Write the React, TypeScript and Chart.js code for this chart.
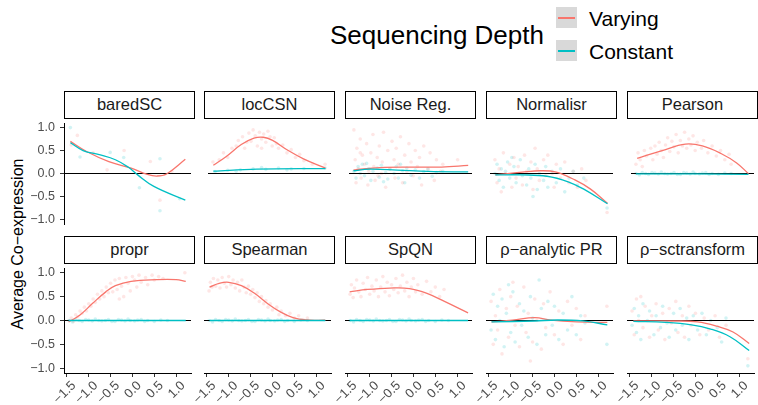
import React, { useEffect, useRef } from "react";
import { Chart, registerables } from "chart.js";

Chart.register(...registerables);

type Pt = [number, number];

// ---------- constants ----------
const RED = "#F8766D";
const TEAL = "#00BFC4";
const RED_PT = "rgba(248,118,109,0.18)";
const TEAL_PT = "rgba(0,191,196,0.18)";
const FONT = "'Liberation Sans', Arial, Helvetica, sans-serif";

const X_MIN = -1.566;
const X_MAX = 1.34;
const Y_MIN = -1.1;
const Y_MAX = 1.1;
const X_TICKS = [-1.5, -1.0, -0.5, 0.0, 0.5, 1.0];
const Y_TICKS = [-1.0, -0.5, 0.0, 0.5, 1.0];

const LEGEND_TITLE = "Sequencing Depth";
const SERIES_NAMES = ["Varying", "Constant"];
const Y_TITLE = "Average Co\u2212expression";

const METHODS = [
  "baredSC",
  "locCSN",
  "Noise Reg.",
  "Normalisr",
  "Pearson",
  "propr",
  "Spearman",
  "SpQN",
  "\u03C1\u2212analytic PR",
  "\u03C1\u2212sctransform",
];

// ---------- smooth curves ----------
const baredVaryLine: Pt[] = [[-1.42, 0.7], [-1.05, 0.48], [-0.54, 0.26], [-0.03, 0.115], [0.34, -0.02], [0.56, -0.055], [0.78, -0.01], [1.21, 0.31]];
const baredConstLine: Pt[] = [[-1.42, 0.67], [-1.13, 0.5], [-0.76, 0.41], [-0.39, 0.3], [-0.1, 0.14], [0.12, -0.03], [0.49, -0.28], [1.21, -0.58]];

const loccsnVaryLine: Pt[] = [[-1.44, 0.18], [-1.15, 0.36], [-0.78, 0.63], [-0.48, 0.77], [-0.26, 0.79], [-0.04, 0.72], [0.33, 0.5], [0.69, 0.32], [1.21, 0.115]];
const loccsnConstLine: Pt[] = [[-1.44, 0.05], [-0.41, 0.095], [1.21, 0.107]];

const noiseVaryLine: Pt[] = [[-1.46, 0.075], [-0.83, 0.13], [-0.06, 0.14], [0.62, 0.14], [1.25, 0.175]];
const noiseConstLine: Pt[] = [[-1.46, 0.06], [-1.09, 0.095], [-0.43, 0.075], [0.31, 0.046], [1.25, 0.034]];

const normVaryLine: Pt[] = [[-1.44, -0.03], [-0.81, 0.03], [-0.37, 0.06], [0.0, 0.03], [0.44, -0.14], [0.81, -0.34], [1.21, -0.65]];
const normConstLine: Pt[] = [[-1.44, -0.03], [-0.81, -0.03], [-0.22, -0.06], [0.28, -0.18], [0.65, -0.34], [1.21, -0.66]];

const pearsonVaryLine: Pt[] = [[-1.42, 0.33], [-0.83, 0.5], [-0.28, 0.64], [0.12, 0.6], [0.57, 0.43], [0.93, 0.23], [1.21, -0.005]];
const pearsonConstLine: Pt[] = [[-1.45, -0.01], [0.0, -0.01], [1.21, -0.02]];

const proprVaryLine: Pt[] = [[-1.46, -0.03], [-1.2, 0.115], [-0.91, 0.36], [-0.61, 0.6], [-0.39, 0.73], [-0.03, 0.82], [0.56, 0.855], [1.0, 0.855], [1.22, 0.82]];
const proprConstLine: Pt[] = [[-1.46, 0.0], [0.0, 0.0], [1.22, 0.0]];

const spearVaryLine: Pt[] = [[-1.44, 0.7], [-1.22, 0.78], [-1.0, 0.8], [-0.71, 0.73], [-0.41, 0.57], [-0.12, 0.36], [0.18, 0.18], [0.47, 0.06], [0.77, 0.01], [1.21, 0.005]];
const spearConstLine: Pt[] = [[-1.44, 0.0], [0.0, 0.0], [1.21, 0.0]];

const spqnVaryLine: Pt[] = [[-1.46, 0.6], [-1.05, 0.65], [-0.54, 0.68], [-0.09, 0.67], [0.31, 0.57], [0.71, 0.4], [1.25, 0.16]];
const spqnConstLine: Pt[] = [[-1.46, 0.0], [0.0, 0.0], [1.25, 0.0]];

const anaVaryLine: Pt[] = [[-1.44, -0.03], [-0.96, 0.006], [-0.45, 0.06], [-0.08, 0.006], [0.51, -0.03], [1.21, -0.04]];
const anaConstLine: Pt[] = [[-1.44, -0.03], [-0.45, -0.01], [0.07, 0.01], [0.65, -0.01], [1.21, -0.09]];

const sctVaryLine: Pt[] = [[-1.42, -0.01], [-0.46, -0.01], [0.05, -0.03], [0.49, -0.12], [0.86, -0.24], [1.23, -0.48]];
const sctConstLine: Pt[] = [[-1.42, -0.02], [-0.68, -0.04], [-0.09, -0.09], [0.35, -0.18], [0.79, -0.34], [1.23, -0.63]];

// ---------- scatter clouds ----------
const baredVaryPts: Pt[] = [[-1.26, 0.83], [-0.19, 0.5], [-0.58, 0.08], [0.41, 0.26], [0.63, -0.58], [-1.4, 0.62], [0.9, 0.05], [-0.9, 0.45]];
const baredConstPts: Pt[] = [[-1.42, 1.0], [-0.51, 0.46], [0.63, 0.32], [0.16, -0.31], [0.63, -0.81], [1.08, -0.55], [-1.2, 0.36], [-0.2, 0.35]];

const loccsnVaryPts: Pt[] = [[-1.45, 0.25], [-1.3, 0.3], [-1.2, 0.45], [-1.1, 0.35], [-1.0, 0.55], [-0.9, 0.6], [-0.85, 0.72], [-0.75, 0.8], [-0.7, 0.55], [-0.6, 0.88], [-0.55, 0.7], [-0.5, 0.95], [-0.45, 0.82], [-0.4, 0.6], [-0.35, 0.9], [-0.3, 0.75], [-0.25, 0.86], [-0.2, 0.68], [-0.15, 0.92], [-0.1, 0.8], [-0.05, 0.6], [0.0, 0.78], [0.05, 0.65], [0.1, 0.55], [0.2, 0.62], [0.3, 0.45], [0.4, 0.52], [0.5, 0.35], [0.6, 0.42], [0.7, 0.28], [0.9, 0.2], [1.2, 0.2], [-0.3, 0.55], [-0.65, 0.68]];
const loccsnConstPts: Pt[] = [[-1.4, 0.04], [-1.1, 0.07], [-0.8, 0.08], [-0.5, 0.1], [-0.2, 0.09], [0.1, 0.12], [0.4, 0.1], [0.7, 0.11], [1.2, 0.12], [-0.9, 0.05], [-0.3, 0.13], [0.3, 0.08]];

const noiseVaryPts: Pt[] = [[-1.45, 0.95], [-1.42, 0.3], [-1.4, -0.2], [-1.38, 0.55], [-1.35, 0.1], [-1.3, 0.75], [-1.28, -0.1], [-1.25, 0.4], [-1.2, 0.2], [-1.15, 0.65], [-1.12, -0.25], [-1.1, 0.05], [-1.05, 0.45], [-1.0, 0.85], [-0.98, 0.15], [-0.95, -0.15], [-0.9, 0.35], [-0.85, 0.6], [-0.8, 0.0], [-0.78, 0.25], [-0.75, 0.9], [-0.7, -0.3], [-0.65, 0.5], [-0.6, 0.1], [-0.55, 0.7], [-0.5, 0.3], [-0.48, -0.1], [-0.45, 0.55], [-0.4, 0.2], [-0.35, 0.8], [-0.3, -0.2], [-0.25, 0.4], [-0.2, 0.05], [-0.15, 0.65], [-0.1, 0.25], [-0.05, -0.05], [0.0, 0.5], [0.05, 0.15], [0.1, 0.35], [0.15, -0.25], [0.2, 0.6], [0.3, 0.1], [0.35, 0.45], [0.45, -0.15], [0.5, 0.3], [0.6, 0.05], [0.65, 0.2], [1.0, 0.3], [-1.3, 0.45], [-0.88, -0.05]];
const noiseConstPts: Pt[] = [[-1.45, 0.05], [-1.4, -0.1], [-1.35, 0.15], [-1.3, 0.0], [-1.25, 0.2], [-1.2, -0.05], [-1.1, 0.1], [-1.05, -0.15], [-1.0, 0.05], [-0.9, 0.12], [-0.85, -0.08], [-0.8, 0.18], [-0.7, 0.02], [-0.65, -0.12], [-0.6, 0.1], [-0.5, 0.0], [-0.45, 0.15], [-0.4, -0.1], [-0.3, 0.06], [-0.25, -0.2], [-0.2, 0.12], [-0.1, -0.04], [0.0, 0.08], [0.1, -0.1], [0.2, 0.04], [0.3, 0.1], [0.4, -0.06], [0.5, 0.02], [0.65, 0.05], [-1.15, 0.22], [-0.75, -0.18], [-0.35, 0.2]];

const normVaryPts: Pt[] = [[-1.45, 0.3], [-1.4, -0.2], [-1.35, 0.1], [-1.3, -0.4], [-1.25, 0.45], [-1.2, 0.0], [-1.1, 0.2], [-1.05, -0.3], [-1.0, 0.35], [-0.95, -0.1], [-0.9, 0.15], [-0.8, -0.25], [-0.75, 0.4], [-0.7, 0.05], [-0.6, 0.25], [-0.55, -0.35], [-0.5, 0.55], [-0.45, 0.1], [-0.4, -0.15], [-0.3, 0.3], [-0.25, -0.05], [-0.2, 0.4], [-0.1, 0.0], [-0.05, -0.3], [0.0, 0.2], [0.1, -0.1], [0.2, 0.25], [0.3, -0.2], [0.4, 0.05], [0.5, -0.3], [0.6, 0.1], [0.7, -0.15], [1.2, -0.85]];
const normConstPts: Pt[] = [[-1.45, 0.0], [-1.4, 0.2], [-1.35, -0.15], [-1.3, 0.1], [-1.25, -0.3], [-1.2, 0.05], [-1.15, 0.25], [-1.1, -0.1], [-1.0, 0.15], [-0.95, -0.2], [-0.9, 0.0], [-0.85, 0.3], [-0.8, -0.05], [-0.7, -0.25], [-0.65, 0.1], [-0.6, -0.1], [-0.5, 0.2], [-0.45, -0.35], [-0.4, 0.0], [-0.3, -0.15], [-0.25, 0.15], [-0.2, -0.3], [-0.1, 0.05], [0.0, -0.2], [0.1, 0.1], [0.2, -0.4], [0.3, -0.1], [0.4, 0.05], [0.5, -0.25], [0.65, -0.1], [-0.55, -0.5], [1.2, -0.75], [-1.05, 0.35]];

const pearsonVaryPts: Pt[] = [[-1.45, 0.2], [-1.4, 0.45], [-1.35, 0.3], [-1.3, 0.15], [-1.25, 0.5], [-1.2, 0.38], [-1.1, 0.55], [-1.05, 0.3], [-1.0, 0.6], [-0.95, 0.42], [-0.9, 0.68], [-0.85, 0.5], [-0.8, 0.35], [-0.75, 0.62], [-0.7, 0.78], [-0.65, 0.48], [-0.6, 0.7], [-0.55, 0.58], [-0.5, 0.85], [-0.45, 0.45], [-0.4, 0.72], [-0.35, 0.6], [-0.3, 0.9], [-0.25, 0.55], [-0.2, 0.75], [-0.15, 0.62], [-0.1, 0.82], [-0.05, 0.5], [0.0, 0.68], [0.1, 0.55], [0.15, 0.72], [0.25, 0.45], [0.35, 0.6], [0.45, 0.38], [0.55, 0.5], [0.65, 0.3], [0.75, 0.42], [0.8, 0.2]];
const flatConstPts: Pt[] = [[-1.45, 0.0], [-1.37, -0.03], [-1.3, 0.02], [-1.22, 0.0], [-1.15, -0.02], [-1.07, 0.02], [-1.0, 0.01], [-0.92, -0.01], [-0.85, 0.03], [-0.77, 0.0], [-0.7, -0.01], [-0.62, 0.0], [-0.55, 0.02], [-0.47, -0.02], [-0.4, -0.02], [-0.32, 0.02], [-0.25, 0.01], [-0.17, -0.01], [-0.1, 0.03], [-0.05, 0.0], [0.05, -0.01], [0.12, 0.01], [0.2, 0.02], [0.28, -0.02], [0.35, 0.0], [0.5, -0.02], [0.65, 0.01], [0.8, 0.0]];

const proprVaryPts: Pt[] = [[-1.45, 0.0], [-1.4, 0.05], [-1.35, -0.02], [-1.3, 0.12], [-1.25, 0.08], [-1.2, 0.2], [-1.15, 0.15], [-1.1, 0.28], [-1.05, 0.2], [-1.0, 0.35], [-0.95, 0.3], [-0.9, 0.45], [-0.85, 0.38], [-0.8, 0.55], [-0.75, 0.45], [-0.7, 0.62], [-0.65, 0.5], [-0.6, 0.7], [-0.55, 0.58], [-0.5, 0.78], [-0.45, 0.6], [-0.4, 0.85], [-0.35, 0.65], [-0.3, 0.88], [-0.25, 0.72], [-0.2, 0.5], [-0.15, 0.9], [-0.1, 0.78], [-0.05, 0.62], [0.0, 0.92], [0.05, 0.85], [0.1, 0.7], [0.15, 0.95], [0.2, 0.8], [0.3, 0.9], [0.35, 0.75], [0.45, 0.95], [0.5, 0.85], [0.6, 0.92], [0.7, 0.88], [1.2, 1.0], [-0.3, 0.45]];

const spearVaryPts: Pt[] = [[-1.45, 0.62], [-1.42, 0.8], [-1.38, 0.7], [-1.35, 0.88], [-1.3, 0.72], [-1.25, 0.85], [-1.2, 0.68], [-1.15, 0.9], [-1.1, 0.78], [-1.05, 0.7], [-1.0, 0.92], [-0.95, 0.75], [-0.9, 0.85], [-0.85, 0.68], [-0.8, 0.8], [-0.75, 0.62], [-0.7, 0.85], [-0.65, 0.7], [-0.6, 0.58], [-0.55, 0.72], [-0.5, 0.55], [-0.45, 0.65], [-0.4, 0.48], [-0.35, 0.58], [-0.3, 0.4], [-0.25, 0.5], [-0.2, 0.35], [-0.15, 0.42], [-0.1, 0.28], [-0.05, 0.35], [0.0, 0.22], [0.1, 0.28], [0.15, 0.12], [0.2, 0.2], [0.3, 0.1], [0.4, 0.15], [0.5, 0.05], [0.6, 0.1], [0.7, 0.02], [0.8, 0.05]];

const spqnVaryPts: Pt[] = [[-1.45, 0.55], [-1.42, 0.75], [-1.38, 0.48], [-1.35, 0.68], [-1.3, 0.85], [-1.25, 0.6], [-1.2, 0.5], [-1.15, 0.78], [-1.1, 0.65], [-1.05, 0.9], [-1.0, 0.55], [-0.95, 0.72], [-0.9, 0.62], [-0.85, 0.85], [-0.8, 0.5], [-0.75, 0.7], [-0.7, 0.92], [-0.65, 0.6], [-0.6, 0.8], [-0.55, 0.52], [-0.5, 0.75], [-0.45, 0.65], [-0.4, 0.88], [-0.35, 0.58], [-0.3, 0.72], [-0.25, 0.95], [-0.2, 0.62], [-0.15, 0.8], [-0.1, 0.5], [-0.05, 0.7], [0.0, 0.88], [0.05, 0.6], [0.1, 0.75], [0.2, 0.55], [0.3, 0.82], [0.4, 0.6], [0.5, 0.7], [0.6, 0.5], [0.7, 0.65]];

const anaVaryPts: Pt[] = [[-1.45, 0.4], [-1.4, -0.5], [-1.35, 0.1], [-1.3, -0.2], [-1.25, 0.65], [-1.2, -0.7], [-1.1, 0.25], [-1.05, -0.35], [-1.0, 0.5], [-0.9, -0.1], [-0.85, 0.3], [-0.8, -0.55], [-0.7, 0.7], [-0.65, -0.25], [-0.6, 0.15], [-0.5, -0.45], [-0.45, 0.45], [-0.4, 0.0], [-0.3, -0.6], [-0.25, 0.35], [-0.2, -0.15], [-0.1, 0.6], [0.0, -0.3], [0.1, 0.2], [0.2, -0.5], [0.3, 0.4], [0.4, -0.1], [0.5, 0.25], [0.6, -0.4], [0.7, 0.1], [1.2, 0.3], [-0.95, 0.8], [-0.55, -0.85]];
const anaConstPts: Pt[] = [[-1.45, -0.2], [-1.4, 0.55], [-1.35, -0.4], [-1.3, 0.3], [-1.25, 0.0], [-1.2, 0.45], [-1.15, -0.55], [-1.1, 0.15], [-1.0, -0.25], [-0.95, 0.6], [-0.9, -0.45], [-0.8, 0.35], [-0.75, -0.1], [-0.7, 0.2], [-0.6, -0.35], [-0.55, 0.5], [-0.5, 0.05], [-0.4, -0.5], [-0.35, 0.85], [-0.3, 0.25], [-0.2, -0.3], [-0.15, 0.4], [-0.05, -0.1], [0.0, 0.3], [0.1, -0.4], [0.2, 0.15], [0.3, -0.2], [0.4, 0.5], [0.5, -0.3], [0.6, 0.1], [0.7, -0.05], [1.2, -0.5], [-1.05, 0.75]];

const sctVaryPts: Pt[] = [[-1.45, 0.2], [-1.4, -0.3], [-1.35, 0.45], [-1.3, 0.0], [-1.2, -0.15], [-1.15, 0.3], [-1.05, -0.35], [-1.0, 0.1], [-0.9, 0.35], [-0.85, -0.2], [-0.75, 0.15], [-0.7, -0.4], [-0.6, 0.25], [-0.55, -0.05], [-0.45, 0.4], [-0.4, -0.25], [-0.3, 0.1], [-0.25, -0.35], [-0.15, 0.3], [-0.1, -0.1], [0.0, 0.15], [0.1, -0.3], [0.2, 0.05], [0.3, -0.2], [0.45, 0.1], [0.55, -0.35], [0.7, -0.1], [1.2, -0.8], [-1.25, 0.5]];
const sctConstPts: Pt[] = [[-1.45, -0.1], [-1.4, 0.25], [-1.35, -0.25], [-1.3, 0.1], [-1.25, -0.4], [-1.2, 0.35], [-1.1, 0.0], [-1.05, 0.2], [-0.95, -0.3], [-0.9, 0.1], [-0.8, -0.15], [-0.75, 0.3], [-0.65, -0.05], [-0.6, -0.35], [-0.5, 0.15], [-0.45, -0.2], [-0.35, 0.25], [-0.3, -0.1], [-0.2, 0.05], [-0.15, -0.4], [-0.05, 0.1], [0.05, -0.2], [0.15, 0.15], [0.25, -0.3], [0.35, 0.0], [0.5, -0.15], [0.6, -0.45], [0.7, 0.05], [1.2, -0.95]];

const VARY_LINES: Pt[][] = [baredVaryLine, loccsnVaryLine, noiseVaryLine, normVaryLine, pearsonVaryLine, proprVaryLine, spearVaryLine, spqnVaryLine, anaVaryLine, sctVaryLine];
const CONST_LINES: Pt[][] = [baredConstLine, loccsnConstLine, noiseConstLine, normConstLine, pearsonConstLine, proprConstLine, spearConstLine, spqnConstLine, anaConstLine, sctConstLine];
const VARY_PTS: Pt[][] = [baredVaryPts, loccsnVaryPts, noiseVaryPts, normVaryPts, pearsonVaryPts, proprVaryPts, spearVaryPts, spqnVaryPts, anaVaryPts, sctVaryPts];
const CONST_PTS: Pt[][] = [baredConstPts, loccsnConstPts, noiseConstPts, normConstPts, flatConstPts, flatConstPts, flatConstPts, flatConstPts, anaConstPts, sctConstPts];

// ---------- layout ----------
const PANEL_LEFTS = [64, 204, 345, 486, 627];
const PLOT_W = 131;
const PLOT_TOPS = [119, 264];
const PLOT_H = 109;
const STRIP_H = 28;
const Y_AXIS_W = 64;
const X_AXIS_H = 32;
const X_PAD_L = 24;

const fmt = (v: number) => (v < 0 ? "\u2212" + Math.abs(v).toFixed(1) : v.toFixed(1));
const toXY = (p: Pt[]) => p.map(([x, y]) => ({ x, y }));

function Panel({ idx }: { idx: number }) {
  const ref = useRef<HTMLCanvasElement>(null);
  const row = Math.floor(idx / 5);
  const col = idx % 5;
  const showY = col === 0;
  const showX = row === 1;
  const padL = showY ? Y_AXIS_W : showX ? X_PAD_L : 0;
  const padB = showX ? X_AXIS_H : 0;
  const w = padL + PLOT_W;
  const h = PLOT_H + padB;
  const left = PANEL_LEFTS[col] - padL;
  const top = PLOT_TOPS[row];

  useEffect(() => {
    if (!ref.current) return;
    const tickFont = { family: FONT, size: 12.5 };
    const chart = new Chart(ref.current, {
      type: "scatter",
      data: {
        datasets: [
          {
            type: "line",
            data: toXY(CONST_LINES[idx]),
            borderColor: TEAL,
            borderWidth: 1.3,
            pointRadius: 0,
            tension: 0.4,
            order: 0,
          } as any,
          {
            type: "line",
            data: toXY(VARY_LINES[idx]),
            borderColor: RED,
            borderWidth: 1.3,
            pointRadius: 0,
            tension: 0.4,
            order: 1,
          } as any,
          {
            type: "line",
            data: [{ x: X_MIN, y: 0 }, { x: X_MAX, y: 0 }],
            borderColor: "#000000",
            borderWidth: 1,
            pointRadius: 0,
            order: 2,
          } as any,
          {
            data: toXY(VARY_PTS[idx]),
            backgroundColor: RED_PT,
            borderWidth: 0,
            pointRadius: 1.8,
            order: 3,
          },
          {
            data: toXY(CONST_PTS[idx]),
            backgroundColor: TEAL_PT,
            borderWidth: 0,
            pointRadius: 1.8,
            order: 3,
          },
        ],
      },
      options: {
        animation: false,
        responsive: false,
        maintainAspectRatio: false,
        events: [],
        layout: { padding: { left: showY ? 0 : padL, right: 0, top: 0, bottom: 0 } },
        plugins: { legend: { display: false }, tooltip: { enabled: false } },
        scales: {
          x: {
            type: "linear",
            min: X_MIN,
            max: X_MAX,
            display: showX,
            afterBuildTicks: (s: any) => {
              s.ticks = X_TICKS.map((v) => ({ value: v }));
            },
            afterFit: (s: any) => {
              s.height = showX ? X_AXIS_H : 0;
              s.paddingLeft = 0;
              s.paddingRight = 0;
            },
            ticks: {
              autoSkip: false,
              minRotation: 45,
              maxRotation: 45,
              padding: 1,
              labelOffset: 7,
              color: "#4D4D4D",
              font: { family: FONT, size: 13 },
              callback: (v: any) => fmt(Number(v)),
            },
            grid: { drawOnChartArea: false, drawTicks: true, tickLength: 4, color: "#333333", lineWidth: 1 },
            border: { display: true, color: "#000000", width: 1 },
          },
          y: {
            type: "linear",
            min: Y_MIN,
            max: Y_MAX,
            display: showY,
            afterBuildTicks: (s: any) => {
              s.ticks = Y_TICKS.map((v) => ({ value: v }));
            },
            afterFit: (s: any) => {
              s.width = showY ? Y_AXIS_W : 0;
              s.paddingTop = 0;
              s.paddingBottom = 0;
            },
            ticks: {
              autoSkip: false,
              padding: 5,
              color: "#4D4D4D",
              font: tickFont,
              callback: (v: any) => fmt(Number(v)),
            },
            grid: { drawOnChartArea: false, drawTicks: true, tickLength: 4, color: "#333333", lineWidth: 1 },
            border: { display: true, color: "#000000", width: 1 },
          },
        },
      } as any,
    });
    return () => chart.destroy();
  }, [idx]);

  return (
    <>
      <canvas
        ref={ref}
        width={w}
        height={h}
        style={{ position: "absolute", left, top, width: w, height: h }}
      />
      <div
        style={{
          position: "absolute",
          left: PANEL_LEFTS[col],
          top: PLOT_TOPS[row] - STRIP_H,
          width: PLOT_W,
          height: STRIP_H,
          boxSizing: "border-box",
          border: "1.4px solid #000",
          background: "#fff",
          fontFamily: FONT,
          fontSize: 16.5,
          color: "#1A1A1A",
          textAlign: "center",
          lineHeight: STRIP_H - 2.8 + "px",
          whiteSpace: "nowrap",
        }}
      >
        {METHODS[idx]}
      </div>
    </>
  );
}

export default function App() {
  return (
    <div
      style={{
        position: "absolute",
        left: 0,
        top: 0,
        width: 758,
        height: 405,
        background: "#ffffff",
        overflow: "hidden",
        fontFamily: FONT,
      }}
    >
      {/* legend */}
      <div style={{ position: "absolute", left: 330, top: 22, fontSize: 26, lineHeight: "26px", color: "#000", whiteSpace: "nowrap" }}>
        {LEGEND_TITLE}
      </div>
      {[0, 1].map((i) => (
        <React.Fragment key={i}>
          <div
            style={{
              position: "absolute",
              left: 556,
              top: 7 + i * 33,
              width: 21,
              height: 21,
              background: "#D9D9D9",
            }}
          >
            <div
              style={{
                position: "absolute",
                left: 2,
                top: 9.5,
                width: 17,
                height: 2,
                background: i === 0 ? RED : TEAL,
              }}
            />
          </div>
          <div
            style={{
              position: "absolute",
              left: 589,
              top: 8 + i * 33,
              fontSize: 21,
              lineHeight: "21px",
              color: "#000",
              whiteSpace: "nowrap",
            }}
          >
            {SERIES_NAMES[i]}
          </div>
        </React.Fragment>
      ))}
      {/* y axis title */}
      <div
        style={{
          position: "absolute",
          left: 18,
          top: 244,
          transform: "translate(-50%, -50%) rotate(-90deg)",
          fontSize: 16,
          lineHeight: "16px",
          color: "#000",
          whiteSpace: "nowrap",
        }}
      >
        {Y_TITLE}
      </div>
      {METHODS.map((_, i) => (
        <Panel key={i} idx={i} />
      ))}
    </div>
  );
}
